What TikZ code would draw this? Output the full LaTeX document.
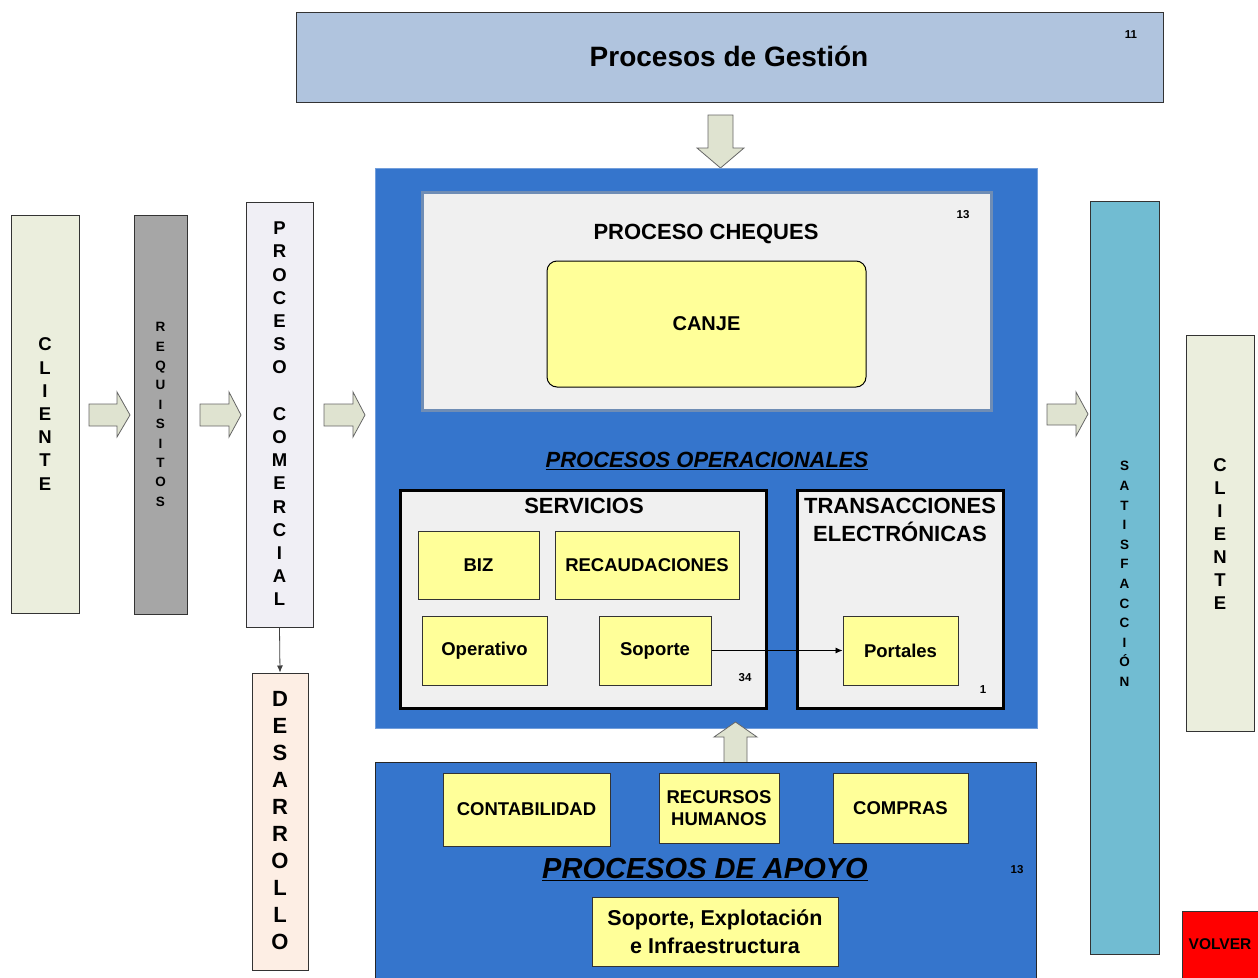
\documentclass[tikz,border=0pt]{standalone}
\usepackage{fontspec}
\setmainfont{Liberation Sans}
\usetikzlibrary{arrows.meta}
\definecolor{gestion}{HTML}{B0C4DE}
\definecolor{barrow}{HTML}{DFE3D0}
\definecolor{opblue}{HTML}{3575CC}
\definecolor{lgray}{HTML}{F0F0F0}
\definecolor{lyellow}{HTML}{FFFF99}
\definecolor{cliente}{HTML}{EBEEDD}
\definecolor{requis}{HTML}{A6A6A6}
\definecolor{comerc}{HTML}{F0EFF5}
\definecolor{desarr}{HTML}{FDEEE4}
\definecolor{satisf}{HTML}{71BCD2}
\definecolor{chqborder}{HTML}{6F8DB5}
\newcommand{\fs}[2]{\fontsize{#1}{#2}\selectfont\bfseries}
\begin{document}
\begin{tikzpicture}[x=1pt,y=-1pt,
  box/.style={draw=black!80, line width=1pt, inner sep=0pt, align=center},
  ybox/.style={box, fill=lyellow, font=\fs{18.5}{22}},
  thickbox/.style={draw=black, line width=3pt, fill=lgray, inner sep=0pt},
  num/.style={font=\fs{11.5}{13}, inner sep=0pt},
  barr/.style={draw=black!60, line width=0.8pt, fill=barrow},
  vlet/.style={inner sep=0pt, align=center}
]
\useasboundingbox (0,0) rectangle (1258,977);
\clip (0,0) rectangle (1258,977);

% top
\node[box, fill=gestion, minimum width=867pt, minimum height=90pt] (gest) at (729.5,57) {};
\node[font=\fs{28}{32}] (gestt) at (729,56) {Procesos de Gestión};
\node[num] (n11) at (1131,35) {11};

% down block arrow
\draw[barr] (708,115) -- (733,115) -- (733,148) -- (744,148) -- (720.5,168) -- (697,148) -- (708,148) -- cycle;

% operational blue
\node[draw=opblue!70!white, line width=1pt, fill=opblue, minimum width=662pt, minimum height=560pt, inner sep=0pt] (ops) at (706,448) {};
\node[draw=chqborder, line width=3pt, fill=lgray, minimum width=569pt, minimum height=218pt, inner sep=0pt] (chq) at (706.5,301) {};
\node[font=\fs{22}{26}] (chqt) at (706,234) {PROCESO CHEQUES};
\node[num] (n13a) at (963,215) {13};
\node[box, draw=black, fill=lyellow, rounded corners=10pt, minimum width=319pt, minimum height=126pt, font=\fs{20}{24}] (canje) at (706.5,324) {CANJE};
\node[font=\fs{22}{26}] (opst) at (707,461) {\underline{\textit{PROCESOS OPERACIONALES}}};

\node[thickbox, minimum width=366pt, minimum height=218pt] (serv) at (583,599) {};
\node[font=\fs{22}{26}] (servt) at (584,506) {SERVICIOS};
\node[ybox, minimum width=121pt, minimum height=68pt] (biz) at (478.5,565) {BIZ};
\node[ybox, minimum width=184pt, minimum height=68pt] (recaud) at (647,565) {RECAUDACIONES};
\node[ybox, minimum width=125pt, minimum height=69pt] (oper) at (484.5,650.5) {Operativo};
\node[ybox, minimum width=112pt, minimum height=69pt] (sop) at (655,650.5) {Soporte};
\node[num] (n34) at (745,678) {34};

\node[thickbox, minimum width=206pt, minimum height=218pt] (trans) at (900,599) {};
\node[font=\fs{22}{28}, align=center, inner sep=0pt] (transt) at (900,520) {TRANSACCIONES\\ELECTRÓNICAS};
\node[ybox, minimum width=115pt, minimum height=69pt] (port) at (900.5,650.5) {Portales};
\node[num] (n1) at (983,690) {1};
\draw[line width=0.8pt, -{Latex[length=7pt,width=6pt]}] (sop.east) -- (port.west);

% up block arrow
\draw[barr] (724,763) -- (724,737) -- (714,737) -- (735.5,722) -- (757,737) -- (747,737) -- (747,763) -- cycle;

% apoyo
\node[draw=black!85, line width=1pt, fill=opblue, minimum width=661pt, minimum height=220pt, inner sep=0pt] (apoyo) at (705.5,872) {};
\node[ybox, minimum width=167pt, minimum height=73pt] (conta) at (526.5,809.5) {CONTABILIDAD};
\node[ybox, minimum width=120pt, minimum height=70pt] (rrhh) at (719,808) {RECURSOS\\HUMANOS};
\node[ybox, minimum width=135pt, minimum height=70pt] (compras) at (900.5,808) {COMPRAS};
\node[font=\fs{29}{33}] (apoyot) at (705,870) {\underline{\textit{PROCESOS DE APOYO}}};
\node[num] (n13b) at (1017,870) {13};
\node[ybox, font=\fs{21.5}{28}, minimum width=246pt, minimum height=69pt] (sei) at (715,931.5) {Soporte, Explotación\\e Infraestructura};

% left column
\node[box, fill=cliente, minimum width=68pt, minimum height=398pt] (cli1) at (45,414) {};
\node[vlet, font=\fs{18.5}{23.2}] at (cli1.center) {C\\L\\I\\E\\N\\T\\E};
\node[box, fill=requis, minimum width=53pt, minimum height=399pt] (req) at (160.5,414.5) {};
\node[vlet, font=\fs{13.5}{19.4}] at (req.center) {R\\E\\Q\\U\\I\\S\\I\\T\\O\\S};
\node[box, fill=comerc, minimum width=67pt, minimum height=425pt] (com) at (279.5,414.5) {};
\node[vlet, font=\fs{18.5}{23.2}] at (279.5,414) {P\\R\\O\\C\\E\\S\\O\\[23.2pt]C\\O\\M\\E\\R\\C\\I\\A\\L};
\node[box, fill=desarr, minimum width=56pt, minimum height=297pt] (des) at (280,821.5) {};
\node[vlet, font=\fs{22}{27}] at (280,820.5) {D\\E\\S\\A\\R\\R\\O\\L\\L\\O};
\draw[black!75, line width=0.8pt, -{Latex[length=7pt,width=6pt]}] (com.south) -- (des.north);

\draw[barr] (89,404) -- (117,404) -- (117,392) -- (130,415) -- (117,437) -- (117,426) -- (89,426) -- cycle;
\draw[barr] (200,404) -- (229,404) -- (229,392) -- (241,415) -- (229,437) -- (229,426) -- (200,426) -- cycle;
\draw[barr] (324,404) -- (353,404) -- (353,392) -- (365,415) -- (353,437) -- (353,426) -- (324,426) -- cycle;

% right column
\draw[barr] (1047,404) -- (1076,404) -- (1076,392) -- (1088,414) -- (1076,436) -- (1076,425) -- (1047,425) -- cycle;
\node[box, fill=satisf, minimum width=69pt, minimum height=753pt] (sat) at (1124.5,577.5) {};
\node[vlet, font=\fs{13.5}{19.6}] at (1124.5,574) {S\\A\\T\\I\\S\\F\\A\\C\\C\\I\\Ó\\N};
\node[box, fill=cliente, minimum width=68pt, minimum height=396pt] (cli2) at (1220,533) {};
\node[vlet, font=\fs{18.5}{23}] at (1220,534) {C\\L\\I\\E\\N\\T\\E};
\node[box, fill=red, minimum width=80pt, minimum height=70pt] (volver) at (1222,946) {};
\node[font=\fs{15.5}{18}, inner sep=0pt] (volvert) at (1220,944) {VOLVER};
\end{tikzpicture}
\end{document}
